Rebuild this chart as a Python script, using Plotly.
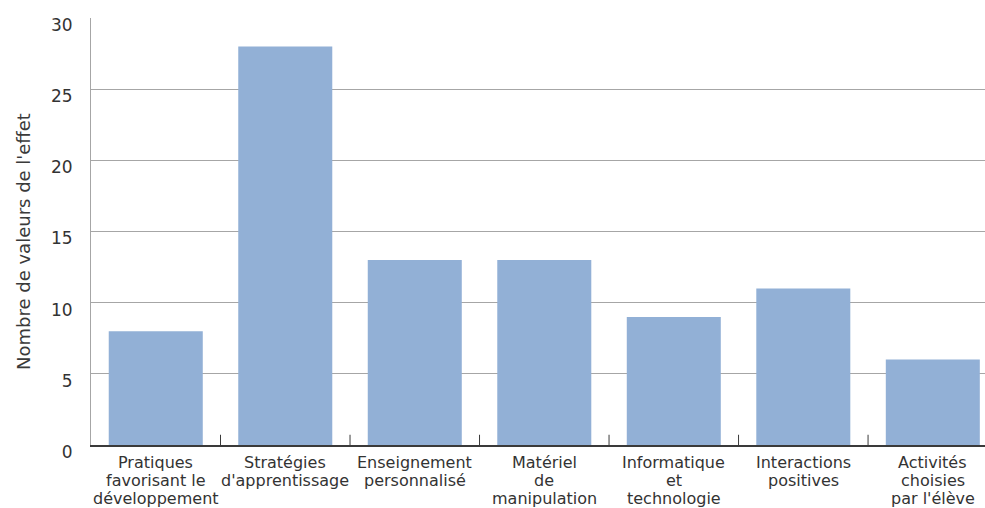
import plotly.graph_objects as go

categories = [
    "Pratiques<br>favorisant le<br>développement",
    "Stratégies<br>d'apprentissage",
    "Enseignement<br>personnalisé",
    "Matériel<br>de<br>manipulation",
    "Informatique<br>et<br>technologie",
    "Interactions<br>positives",
    "Activités<br>choisies<br>par l'élève",
]
values = [8, 28, 13, 13, 9, 11, 6]
y_ticks = [0, 5, 10, 15, 20, 25, 30]
y_title = "Nombre de valeurs de l'effet"

fig = go.Figure(go.Bar(
    x=list(range(len(categories))), y=values,
    marker=dict(color="#92b0d6", line=dict(width=0)),
    width=0.726,
))

fig.update_layout(
    width=985, height=508,
    margin=dict(l=91, r=0, t=18, b=63),
    paper_bgcolor="white", plot_bgcolor="white",
    font=dict(family="DejaVu Sans, sans-serif", color="#333333"),
    showlegend=False,
    xaxis=dict(
        range=[-0.5, 6.403],
        tickvals=list(range(len(categories))),
        showticklabels=False,
        showline=True, linecolor="#3a3a3a", linewidth=2,
        showgrid=False, zeroline=False, fixedrange=True,
    ),
    yaxis=dict(
        range=[0, 30],
        tickvals=y_ticks,
        tickfont=dict(size=17, color="#333333"),
        ticklabelshift=7,
        showgrid=True, gridcolor="#a6a6a6", gridwidth=1,
        showline=True, linecolor="#a6a6a6", linewidth=1,
        zeroline=False,
        ticks="outside", ticklen=14, tickcolor="rgba(0,0,0,0)",
    ),
)

fig.add_annotation(x=(23 - 91) / 894, xref="paper", y=(445 - 242) / 427, yref="paper",
                   text=y_title, textangle=-90, showarrow=False,
                   xanchor="center", yanchor="middle",
                   font=dict(size=18, color="#3a3a3a"))

# category labels, one annotation per text line
for i, lab in enumerate(categories):
    for j, line in enumerate(lab.split("<br>")):
        fig.add_annotation(x=i, xref="x", y=0, yref="paper", text=line, showarrow=False,
                           xanchor="center", yanchor="middle", yshift=-(17 + 18 * j),
                           font=dict(size=16, color="#333333"))

# boundary tick marks pointing up from the baseline
for b in [0.5, 1.5, 2.5, 3.5, 4.5, 5.5]:
    fig.add_shape(type="line", xref="x", yref="paper", x0=b, x1=b, y0=0, y1=0.024,
                  line=dict(color="#3a3a3a", width=1))

fig.write_html("out.html")
